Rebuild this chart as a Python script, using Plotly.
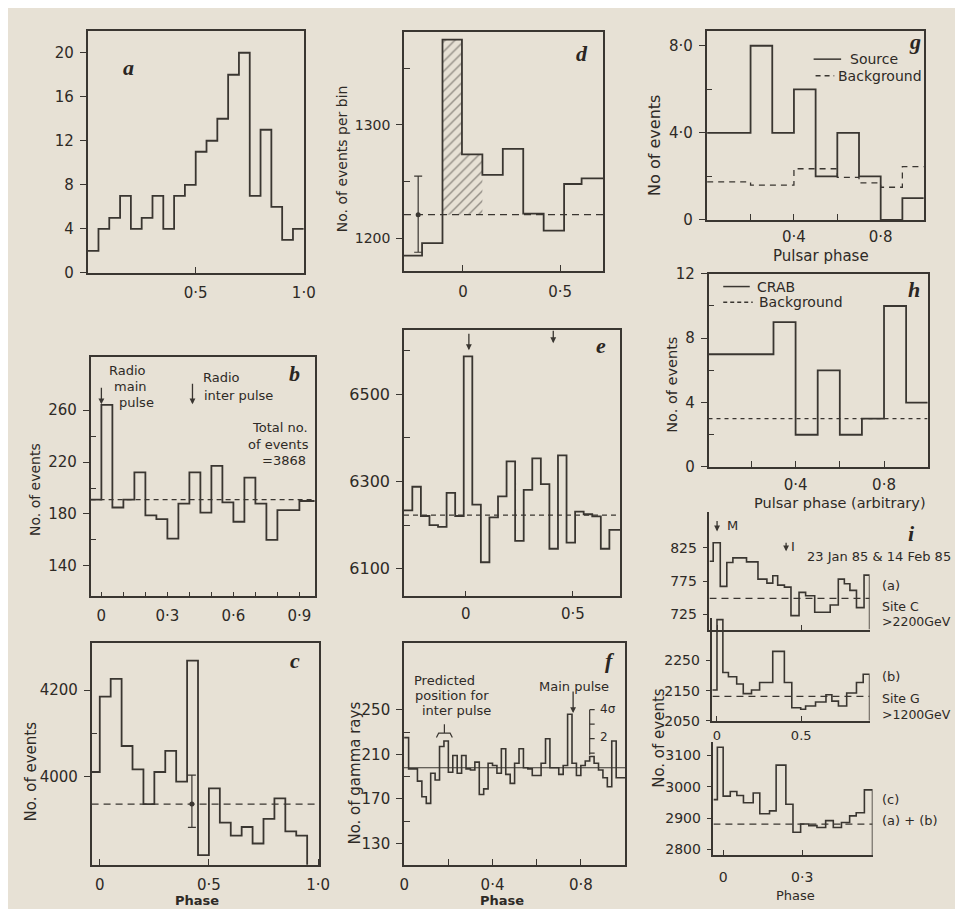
import plotly.graph_objects as go

W, H = 963, 909
INK = '#3a3631'
TXT = '#2e2a26'
PAPER = '#e7e1d5'
SANS = 'DejaVu Sans'
SERIF = 'Liberation Serif'

# ---------------- data ----------------
# a
a_phase = [0.00, 0.05, 0.10, 0.15, 0.20, 0.25, 0.30, 0.35, 0.40, 0.45, 0.50,
           0.55, 0.60, 0.65, 0.70, 0.75, 0.80, 0.85, 0.90, 0.95, 1.00]
a_counts = [2, 4, 5, 7, 4, 5, 7, 4, 7, 8, 11, 12, 14, 18, 20, 7, 13, 6, 3, 4]

# b
b_phase = [-0.05, 0.00, 0.05, 0.10, 0.15, 0.20, 0.25, 0.30, 0.35, 0.40, 0.45,
           0.50, 0.55, 0.60, 0.65, 0.70, 0.75, 0.80, 0.85, 0.90, 0.95, 1.00]
b_counts = [191, 264, 185, 191, 212, 179, 176, 161, 188, 212, 181,
            217, 189, 174, 208, 188, 160, 183, 183, 190, 190]
b_mean = 191
b_main_pulse = 0.0
b_inter_pulse = 0.414

# c
c_phase = [-0.04, 0.00, 0.05, 0.10, 0.15, 0.20, 0.25, 0.30, 0.35, 0.40, 0.45,
           0.50, 0.55, 0.60, 0.65, 0.70, 0.75, 0.80, 0.85, 0.90, 0.95, 1.00]
c_counts = [4011, 4185, 4226, 4071, 4017, 3937, 4011, 4060, 3989, 4268, 3819,
            3973, 3894, 3864, 3884, 3846, 3903, 3950, 3874, 3864, 3790]
c_mean = 3937
c_err_x, c_err_hi, c_err_lo = 0.422, 4004, 3883

# d
d_phase = [-0.31, -0.21, -0.105, -0.005, 0.10, 0.205, 0.31, 0.415, 0.52, 0.61, 0.73]
d_counts = [1185, 1196, 1375, 1274, 1256, 1279, 1222, 1207, 1248, 1253]
d_mean = 1221
d_err_x, d_err_hi, d_err_lo = -0.23, 1255, 1188

# e
e_phase = [-0.29, -0.25, -0.21, -0.17, -0.13, -0.09, -0.05, -0.01, 0.03, 0.07,
           0.11, 0.15, 0.19, 0.23, 0.27, 0.31, 0.35, 0.39, 0.43, 0.47, 0.51,
           0.55, 0.59, 0.63, 0.67, 0.73]
e_counts = [6234, 6288, 6221, 6200, 6196, 6274, 6221, 6587, 6247, 6115, 6218,
            6266, 6346, 6164, 6281, 6353, 6294, 6146, 6360, 6160, 6231, 6225,
            6220, 6146, 6189]
e_mean = 6223
e_arrows = [0.014, 0.408]

# f
f_phase = [0.00, 0.02, 0.04, 0.06, 0.08, 0.10, 0.12, 0.14, 0.16, 0.18, 0.20,
           0.22, 0.24, 0.26, 0.28, 0.30, 0.32, 0.34, 0.36, 0.38, 0.40, 0.42,
           0.44, 0.46, 0.48, 0.50, 0.52, 0.54, 0.56, 0.58, 0.60, 0.62, 0.64,
           0.66, 0.68, 0.70, 0.72, 0.74, 0.76, 0.78, 0.80, 0.82, 0.84, 0.86,
           0.88, 0.90, 0.92, 0.94, 0.96, 0.98, 1.00]
f_counts = [225, 197, 197, 186, 172, 166, 193, 187, 217, 222,
            194, 209, 193, 209, 197, 196, 203, 174, 179, 202,
            200, 193, 215, 192, 184, 202, 215, 198, 197, 191,
            191, 202, 224, 198, 198, 192, 200, 246, 202, 191,
            200, 204, 208, 202, 196, 189, 181, 222, 189, 189]
f_mean = 198
f_sigma = 13.0
f_sigma_x = 0.84
f_main_pulse = 0.765
f_inter_lo, f_inter_hi = 0.146, 0.218

# g
g_phase = [0.0, 0.1, 0.2, 0.3, 0.4, 0.5, 0.6, 0.7, 0.8, 0.9, 1.0]
g_source = [4, 4, 8, 4, 6, 2, 4, 2, 0, 1]
g_background = [1.75, 1.75, 1.6, 1.6, 2.35, 2.35, 1.95, 1.7, 1.5, 2.45]

# h
h_phase = [0.0, 0.1, 0.2, 0.3, 0.4, 0.5, 0.6, 0.7, 0.8, 0.9, 1.0]
h_crab = [7, 7, 7, 9, 2, 6, 2, 3, 10, 4]
h_background = 3

# i (a) site C, (b) site G, (c) sum
ia_phase = [-0.045, -0.023, 0.019, 0.058, 0.094, 0.175, 0.243, 0.296, 0.331, 0.36,
            0.40, 0.439, 0.487, 0.526, 0.58, 0.672, 0.72, 0.756, 0.789, 0.828,
            0.873, 0.906]
ia_counts = [805, 833, 767, 803, 810, 804, 778, 772, 783, 769, 766, 723, 758,
             753, 728, 739, 778, 771, 761, 735, 784]
ia_mean = 749
ib_phase = [-0.029, 0.0, 0.035, 0.068, 0.117, 0.156, 0.205, 0.253, 0.331, 0.40,
            0.444, 0.497, 0.526, 0.585, 0.647, 0.682, 0.721, 0.77, 0.828, 0.868,
            0.906]
ib_counts = [2152, 2385, 2210, 2196, 2172, 2140, 2152, 2177, 2280, 2177, 2093,
             2088, 2099, 2112, 2136, 2115, 2099, 2142, 2177, 2204]
ib_mean = 2131
ic_phase = [-0.037, -0.022, 0.0, 0.027, 0.052, 0.077, 0.114, 0.139, 0.176, 0.201,
            0.238, 0.265, 0.294, 0.325, 0.356, 0.389, 0.418, 0.449, 0.48, 0.505,
            0.536, 0.567]
ic_counts = [2959, 3126, 2970, 2985, 2972, 2949, 2980, 2914, 2923, 3069, 2944,
             2855, 2881, 2876, 2870, 2892, 2870, 2886, 2907, 2917, 2990]
ic_mean = 2881
i_M, i_I = 0.0, 0.41

# ---------------- layout of panels (pixel boxes) ----------------
ORDER = ['a', 'b', 'c', 'd', 'e', 'f', 'g', 'h', 'ia', 'ib', 'ic']
BOX = {  # x0, x1, y0(top), y1(bottom) in px
    'a': (76, 296, 14, 261), 'b': (79, 307, 347, 591), 'c': (80, 312, 639, 865),
    'd': (398, 601, 15, 259), 'e': (398, 618, 319, 591), 'f': (398, 623, 639, 865),
    'g': (706, 927, 14, 207), 'h': (708, 931, 262, 459),
    'ia': (709, 872, 505, 625), 'ib': (712, 872, 613, 718), 'ic': (713, 875, 740, 855),
}
XR = {'a': [0, 1], 'b': [-0.049, 0.969], 'c': [-0.0375, 1.0065], 'd': [-0.303, 0.722],
      'e': [-0.289, 0.72], 'f': [-0.001, 1.0], 'g': [-0.003, 0.998], 'h': [0.006, 0.997],
      'ia': [-0.045, 0.906], 'ib': [-0.027, 0.906], 'ic': [-0.037, 0.567]}
YR = {'a': [0, 22], 'b': [116.6, 300.8], 'c': [3796.6, 4308], 'd': [1171.6, 1382],
      'e': [6037, 6648], 'f': [110.9, 309.5], 'g': [0, 8.69], 'h': [0, 12],
      'ia': [701.8, 879.3], 'ib': [2050, 2391], 'ic': [2782, 3141.6]}


def names(k):
    i = ORDER.index(k) + 1
    s = '' if i == 1 else str(i)
    return 'x' + s, 'y' + s, 'xaxis' + s, 'yaxis' + s


def mk_axis(domain, rng, anchor, vals, text, ticks, ticklen, size, minor=None,
            mirror=True, standoff=2):
    d = dict(domain=domain, range=rng, anchor=anchor, showline=True, linecolor=INK,
             linewidth=1.5, mirror=mirror, showgrid=False, zeroline=False,
             ticks=ticks, ticklen=ticklen, tickwidth=1.4, tickcolor=INK,
             tickmode='array', tickvals=vals, ticktext=text,
             tickfont=dict(family=SANS, size=size, color=TXT),
             ticklabelstandoff=standoff, fixedrange=True)
    if minor:
        d['minor'] = dict(tickmode='array', tickvals=minor, ticks='inside',
                          ticklen=ticklen, tickwidth=1.4, tickcolor=INK, showgrid=False)
    return d


XT = {  # vals, text, ticks, len, size, minor, standoff
    'a': ([0.5, 1.0], ['0·5', '1·0'], 'inside', 6, 15, None, 5),
    'b': ([0, 0.3, 0.6, 0.9], ['0', '0·3', '0·6', '0·9'], 'inside', 5, 15,
          [0.1, 0.2, 0.4, 0.5, 0.7, 0.8], 5),
    'c': ([0, 0.5, 1.0], ['0', '0·5', '1·0'], 'inside', 6, 15, None, 5),
    'd': ([0, 0.5], ['0', '0·5'], 'inside', 6, 15, None, 6),
    'e': ([0, 0.5], ['0', '0·5'], 'inside', 6, 15, None, 3),
    'f': ([0, 0.4, 0.8], ['0', '0·4', '0·8'], 'inside', 6, 15, [0.2, 0.6], 5),
    'g': ([0.4, 0.8], ['0·4', '0·8'], 'inside', 6, 15, [0.2, 0.6], 2),
    'h': ([0.4, 0.8], ['0·4', '0·8'], 'inside', 6, 15, [0.2, 0.6], 3),
    'ia': ([0, 0.5], ['', ''], 'inside', 5, 13, None, 2),
    'ib': ([0, 0.5], ['0', '0.5'], 'inside', 5, 13, None, 2),
    'ic': ([0, 0.3], ['0', '0·3'], 'inside', 5, 14, None, 8),
}
YT = {
    'a': ([0, 4, 8, 12, 16, 20], None, 'outside', 6, 15, None),
    'b': ([140, 180, 220, 260], None, 'outside', 6, 15, [160, 200, 240]),
    'c': ([4000, 4200], None, 'outside', 6, 15, [4100]),
    'd': ([1200, 1300], None, 'outside', 6, 14, [1250, 1350]),
    'e': ([6100, 6300, 6500], None, 'outside', 6, 16, [6200, 6400, 6600]),
    'f': ([130, 170, 210, 250], None, 'outside', 6, 15, [150, 190, 230]),
    'g': ([0, 4, 8], ['0', '4·0', '8·0'], 'outside', 6, 15, [2, 6]),
    'h': ([0, 4, 8, 12], None, 'outside', 6, 15, [2, 6, 10]),
    'ia': ([725, 775, 825], None, 'outside', 5, 14, None),
    'ib': ([2050, 2150, 2250], None, 'outside', 5, 14, None),
    'ic': ([2800, 2900, 3000, 3100], None, 'outside', 5, 14, None),
}

fig = go.Figure()
layout_axes = {}
for k in ORDER:
    xn, yn, xa, ya = names(k)
    x0, x1, y0, y1 = BOX[k]
    mirror = not k.startswith('i')
    v, t, tk, tl, sz, mn, so = XT[k]
    layout_axes[xa] = mk_axis([x0 / W, x1 / W], XR[k], yn, v, t, tk, tl, sz, mn, mirror, so)
    v, t, tk, tl, sz, mn = YT[k]
    if t is None:
        t = [str(x) for x in v]
    layout_axes[ya] = mk_axis([1 - y1 / H, 1 - y0 / H], YR[k], xn, v, t, tk, tl, sz, mn, mirror, 3)


def step(k, edges, vals, dash=None, width=1.8, drop=False, name=None):
    xn, yn, _, _ = names(k)
    xs = list(edges)
    ys = list(vals) + [vals[-1]]
    if drop:
        xs = xs + [edges[-1]]
        ys = ys + [YR[k][0]]
    fig.add_trace(go.Scatter(x=xs, y=ys, xaxis=xn, yaxis=yn, mode='lines',
                             line=dict(color=INK, width=width, shape='hv', dash=dash),
                             name=name, showlegend=False, hoverinfo='skip'))


def hline(k, y, dash='5px,4px', width=1.2, name=None):
    xn, yn, _, _ = names(k)
    fig.add_trace(go.Scatter(x=XR[k], y=[y, y], xaxis=xn, yaxis=yn, mode='lines',
                             line=dict(color=INK, width=width, dash=dash),
                             name=name, showlegend=False, hoverinfo='skip'))


def errbar(k, x, lo, hi, mid):
    xn, yn, _, _ = names(k)
    fig.add_trace(go.Scatter(x=[x], y=[mid], xaxis=xn, yaxis=yn, mode='markers',
                             marker=dict(color=INK, size=5),
                             error_y=dict(type='data', symmetric=False, array=[hi - mid],
                                          arrayminus=[mid - lo], color=INK, thickness=1.2,
                                          width=4),
                             showlegend=False, hoverinfo='skip'))


# hatched region in d (above background, first two bins of pulse)
xn, yn, _, _ = names('d')
hx = [d_phase[2], d_phase[2], d_phase[3], d_phase[3], d_phase[4], d_phase[4], d_phase[2]]
hy = [d_mean, d_counts[2], d_counts[2], d_counts[3], d_counts[3], d_mean, d_mean]
fig.add_trace(go.Scatter(x=hx, y=hy, xaxis=xn, yaxis=yn, mode='lines', fill='toself',
                         fillcolor='rgba(0,0,0,0)',
                         fillpattern=dict(shape='/', fgcolor=INK, bgcolor='rgba(0,0,0,0)',
                                          size=7, solidity=0.2),
                         line=dict(width=0, color='rgba(0,0,0,0)'),
                         showlegend=False, hoverinfo='skip'))

# mean / background lines
hline('b', b_mean)
hline('c', c_mean, dash='7px,5px')
hline('d', d_mean, dash='7px,5px')
hline('e', e_mean, dash='5px,4px')
hline('f', f_mean, dash='solid', width=1.1)
hline('h', h_background, dash='4px,4px', width=1.1, name='Background')
hline('ia', ia_mean, dash='7px,5px')
hline('ib', ib_mean, dash='7px,5px')
hline('ic', ic_mean, dash='7px,5px')

# histograms
step('a', a_phase, a_counts)
step('b', b_phase, b_counts)
step('c', c_phase, c_counts)
step('d', d_phase, d_counts)
step('e', e_phase, e_counts)
step('f', f_phase, f_counts, width=1.6)
step('g', g_phase, g_source, name='Source')
step('g', g_phase, g_background, dash='6px,5px', width=1.3, name='Background')
step('h', h_phase, h_crab, name='CRAB')
step('ia', ia_phase, ia_counts, drop=True, width=1.6)
step('ib', ib_phase, ib_counts, drop=True, width=1.6)
step('ic', ic_phase, ic_counts, drop=True, width=1.6)

# error bars
errbar('d', d_err_x, d_err_lo, d_err_hi, d_mean)
errbar('c', c_err_x, c_err_lo, c_err_hi, c_mean)

# f sigma scale and bracket
shapes = []
xn, yn, _, _ = names('f')
shapes.append(dict(type='line', xref=xn, yref=yn, x0=f_sigma_x, x1=f_sigma_x,
                   y0=f_mean + 0.9 * f_sigma, y1=f_mean + 4 * f_sigma,
                   line=dict(color=INK, width=1.2)))
for kk in [1, 2, 3, 4]:
    shapes.append(dict(type='line', xref=xn, yref=yn, xsizemode='pixel', xanchor=f_sigma_x,
                       x0=0, x1=5, y0=f_mean + kk * f_sigma, y1=f_mean + kk * f_sigma,
                       line=dict(color=INK, width=1.2)))
bm = (f_inter_lo + f_inter_hi) / 2
path = (f'M {f_inter_lo},{f_mean + 27} L {f_inter_lo + 0.01},{f_mean + 31} '
        f'L {f_inter_hi - 0.01},{f_mean + 31} L {f_inter_hi},{f_mean + 27} '
        f'M {bm},{f_mean + 31} L {bm},{f_mean + 39}')
shapes.append(dict(type='path', xref=xn, yref=yn, path=path, line=dict(color=INK, width=1.2)))

ann = []


def px(x):
    return x / W


def py(y):
    return 1 - y / H


def text(x, y, s, size=14, anchor='center', angle=0, family=SANS, color=TXT):
    ann.append(dict(x=px(x), y=py(y), xref='paper', yref='paper', text=s, showarrow=False,
                    xanchor=anchor, yanchor='middle', textangle=angle,
                    font=dict(family=family, size=size, color=color)))


def key(x0, x1, y, dash):
    shapes.append(dict(type='line', xref='paper', yref='paper', x0=px(x0), x1=px(x1),
                       y0=py(y), y1=py(y), line=dict(color=INK, width=1.5, dash=dash)))


def arrow(k, x, ytip, length):
    xn, yn, _, _ = names(k)
    ann.append(dict(x=x, y=ytip, xref=xn, yref=yn, ax=0, ay=-length, text='',
                    showarrow=True, arrowhead=2, arrowsize=0.9, arrowwidth=1.3,
                    arrowcolor=INK))


# panel letters
for s, x, y in [('a', 118, 52), ('d', 579, 37), ('g', 918, 25), ('h', 917, 278),
                ('b', 287, 364), ('e', 599, 335), ('c', 287, 657), ('f', 608, 657),
                ('i', 915, 527)]:
    text(x, y, f'<b><i>{s}</i></b>', size=22, family=SERIF, color='#2a2622')

# legends of g and h (keys + labels)
key(815, 843, 43, 'solid')
text(850, 43, 'Source', 14, anchor='left')
key(817, 836, 60, '5px,4px')
text(838, 60, 'Background', 14, anchor='left')
key(723, 750, 275, 'solid')
text(755, 275, 'CRAB', 14, anchor='left')
key(723, 753, 291, '4px,3px')
text(757, 291, 'Background', 14, anchor='left')

# axis titles
text(335, 145, 'No. of events per bin', 14, angle=-90)
text(23, 482, 'No. of events', 14, angle=-90)
text(18, 770, 'No. of events', 15, angle=-90)
text(348, 771, 'No. of gamma rays', 15, angle=-90)
text(653, 131, 'No of events', 16, angle=-90)
text(670, 375, 'No. of events', 14.5, angle=-90)
text(658, 735, 'No. of events', 15, angle=-90)
text(823, 244, 'Pulsar phase', 15)
text(842, 496, 'Pulsar phase (arbitrary)', 14.5)
text(187, 901, '<b>Phase</b>', 13)
text(498, 901, '<b>Phase</b>', 13)
text(797, 896, 'Phase', 13)

# b annotations
text(117, 361, 'Radio', 13)
text(119, 377, 'main', 13)
text(126, 393, 'pulse', 13)
text(212, 368, 'Radio', 13)
text(230, 386, 'inter pulse', 13)
text(272, 419, 'Total no.', 13)
text(270, 436, 'of events', 13)
text(276, 452, '=3868', 13)
arrow('b', b_main_pulse, 264.5, 18)
arrow('b', b_inter_pulse, 264.5, 22)

# e arrows
arrow('e', e_arrows[0], 6601, 18)
arrow('e', e_arrows[1], 6617, 14)

# f annotations
text(439, 677, 'Predicted', 13)
text(447, 692, 'position for', 13)
text(451, 708, 'inter pulse', 13)
text(571, 683, 'Main pulse', 13)
text(596, 706, '4σ', 12, anchor='left')
text(596, 735, '2', 12, anchor='left')
arrow('f', f_main_pulse, 247, 23)

# i annotations
arrow('ia', i_M, 850, 12)
arrow('ia', i_I, 820, 10)
text(725, 519, 'M', 13, anchor='left')
text(790, 540, 'I', 13, anchor='left')
text(882, 550, '23 Jan 85 &amp; 14 Feb 85', 13)
text(883, 580, '(a)', 13, anchor='left')
text(883, 601, 'Site C', 12.5, anchor='left')
text(883, 617, '&gt;2200GeV', 12.5, anchor='left')
text(883, 673, '(b)', 13, anchor='left')
text(883, 695, 'Site G', 12.5, anchor='left')
text(883, 712, '&gt;1200GeV', 12.5, anchor='left')
text(883, 798, '(c)', 13, anchor='left')
text(883, 820, '(a) + (b)', 13, anchor='left')

fig.update_layout(
    width=W, height=H, margin=dict(l=0, r=0, t=0, b=0),
    paper_bgcolor=PAPER, plot_bgcolor='rgba(0,0,0,0)', showlegend=False,
    annotations=ann, shapes=shapes,
    **layout_axes,
)

fig.write_html('out.html')
